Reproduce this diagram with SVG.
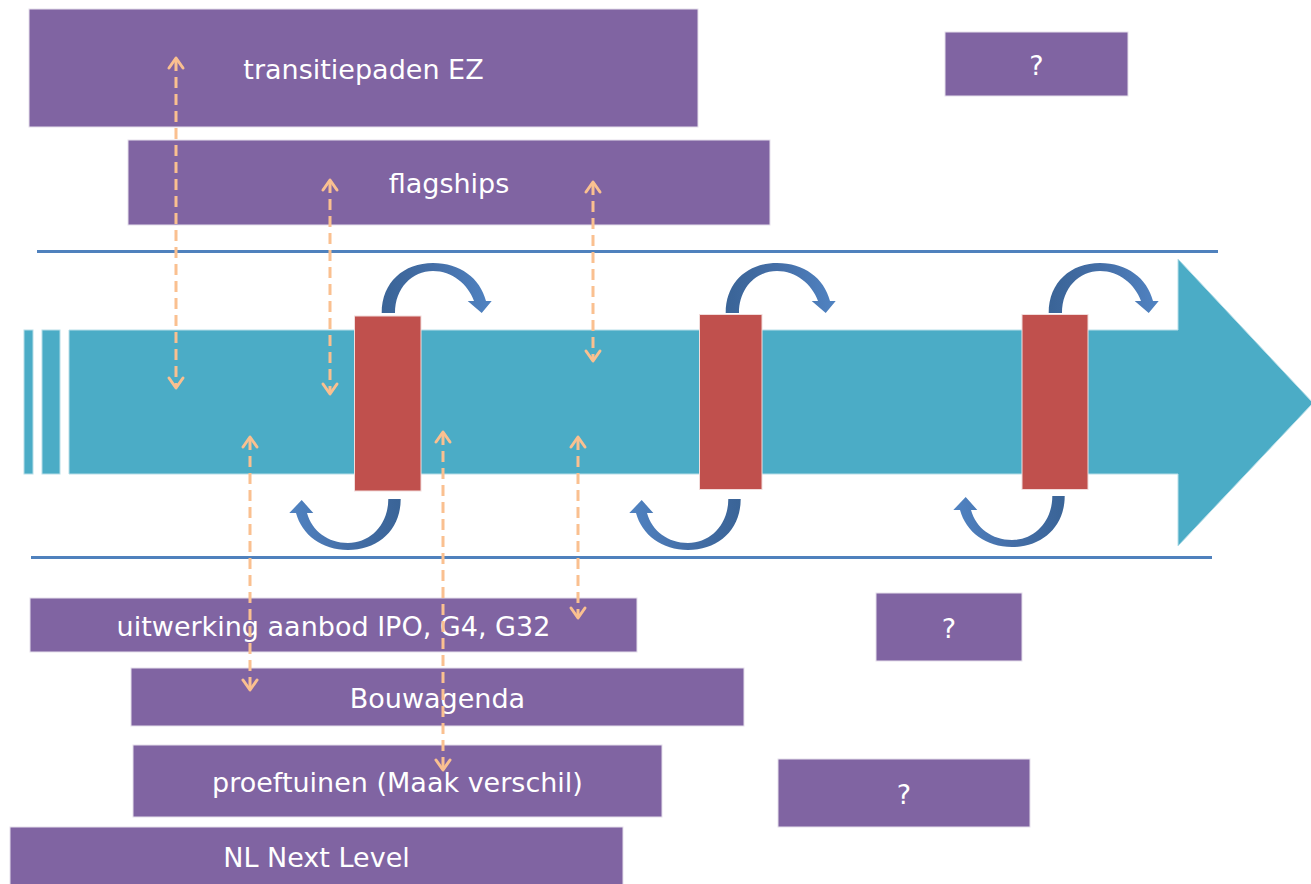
<svg xmlns="http://www.w3.org/2000/svg" width="1311" height="884" viewBox="0 0 1311 884">
<defs>
<style>
.box{fill:#8064A2;stroke:#E6E0EC;stroke-width:1}
.lbl{font-family:"DejaVu Sans","Verdana",sans-serif;font-size:27px;fill:#FFFFFF;text-anchor:middle}
.gate{fill:#C0504D;stroke:#F2DCDB;stroke-width:1}
.band{fill:#4BACC6;stroke:#B7DEE8;stroke-width:1}
.rule{stroke:#4F81BD;stroke-width:3;fill:none}
.dash{stroke:#FAC090;stroke-width:3;stroke-dasharray:11 6;fill:none}
.head{stroke:#FAC090;stroke-width:3;fill:none;stroke-linecap:round;stroke-linejoin:round}
.cu{fill:url(#gTop)}
.cd{fill:url(#gBot)}
</style>
<linearGradient id="gTop" x1="0" y1="0" x2="1" y2="0">
<stop offset="0" stop-color="#3A6497"/>
<stop offset="0.5" stop-color="#456FA8"/>
<stop offset="1" stop-color="#5083C2"/>
</linearGradient>
<linearGradient id="gBot" x1="1" y1="0" x2="0" y2="0">
<stop offset="0" stop-color="#3A6497"/>
<stop offset="0.5" stop-color="#456FA8"/>
<stop offset="1" stop-color="#5083C2"/>
</linearGradient>
<path id="curveTop" d="M381.7,313 C381.7,282 404,263 433,263 C460,263 480,278 486,301 L491.7,301 L481.7,313 L467.7,301 L474,301 C468,284 452,271 433,271 C412,271 395,288 395,313 Z"/>
<path id="curveBot" d="M400.7,499 C400.7,530 378,550 348,550 C322,550 302,535 296,513 L289.3,513 L301.7,500 L313.3,513 L307,513 C312,531 328,543 348,543 C370,543 388.3,525 388.3,499 Z"/>
</defs>

<g id="background">
<line class="rule" x1="37" y1="251.5" x2="1218" y2="251.5"/>
<line class="rule" x1="31" y1="557.5" x2="1212" y2="557.5"/>
</g>

<g id="timeline-arrow">
<rect class="band" x="24" y="330" width="9" height="144"/>
<rect class="band" x="42" y="330" width="18" height="144"/>
<path class="band" d="M69,330 L1178,330 L1178,259 L1313,403 L1178,546 L1178,474 L69,474 Z"/>
</g>

<g id="gate-1">
<rect class="gate" x="354.5" y="316" width="66.5" height="175"/>
<use href="#curveTop" class="cu"/>
<use href="#curveBot" class="cd"/>
</g>
<g id="gate-2">
<rect class="gate" x="699.5" y="314.5" width="62.5" height="175"/>
<use href="#curveTop" class="cu" transform="translate(344,0)"/>
<use href="#curveBot" class="cd" transform="translate(340,0)"/>
</g>
<g id="gate-3">
<rect class="gate" x="1022" y="314.5" width="66" height="175"/>
<use href="#curveTop" class="cu" transform="translate(667,0)"/>
<use href="#curveBot" class="cd" transform="translate(664,-3)"/>
</g>

<g id="node-transitiepaden">
<rect class="box" x="29" y="9" width="669" height="118"/>
<text class="lbl" x="363.5" y="79">transitiepaden EZ</text>
</g>
<g id="node-flagships">
<rect class="box" x="128" y="140" width="642" height="85"/>
<text class="lbl" x="449" y="193">flagships</text>
</g>
<g id="node-q1">
<rect class="box" x="945" y="32" width="183" height="64"/>
<text class="lbl" x="1036.5" y="75">?</text>
</g>
<g id="node-uitwerking">
<rect class="box" x="30" y="598" width="607" height="54"/>
<text class="lbl" x="333.5" y="636">uitwerking aanbod IPO, G4, G32</text>
</g>
<g id="node-bouwagenda">
<rect class="box" x="131" y="668" width="613" height="58"/>
<text class="lbl" x="437.5" y="708">Bouwagenda</text>
</g>
<g id="node-proeftuinen">
<rect class="box" x="133" y="745" width="529" height="72"/>
<text class="lbl" x="397.5" y="792">proeftuinen (Maak verschil)</text>
</g>
<g id="node-nlnextlevel">
<rect class="box" x="10" y="827" width="613" height="60"/>
<text class="lbl" x="316.5" y="867">NL Next Level</text>
</g>
<g id="node-q2">
<rect class="box" x="876" y="593" width="146" height="68"/>
<text class="lbl" x="949" y="638">?</text>
</g>
<g id="node-q3">
<rect class="box" x="778" y="759" width="252" height="68"/>
<text class="lbl" x="904" y="804">?</text>
</g>

<g id="connectors">
<line class="dash" x1="176" y1="60" x2="176" y2="386"/>
<polyline class="head" points="169,68 176,58 183,68"/>
<polyline class="head" points="169,378 176,388 183,378"/>

<line class="dash" x1="330" y1="182" x2="330" y2="392"/>
<polyline class="head" points="323,190 330,180 337,190"/>
<polyline class="head" points="323,384 330,394 337,384"/>

<line class="dash" x1="593" y1="184" x2="593" y2="359"/>
<polyline class="head" points="586,192 593,182 600,192"/>
<polyline class="head" points="586,351 593,361 600,351"/>

<line class="dash" x1="250" y1="439" x2="250" y2="688"/>
<polyline class="head" points="243,447 250,437 257,447"/>
<polyline class="head" points="243,680 250,690 257,680"/>

<line class="dash" x1="443" y1="434" x2="443" y2="768"/>
<polyline class="head" points="436,442 443,432 450,442"/>
<polyline class="head" points="436,760 443,770 450,760"/>

<line class="dash" x1="578" y1="439" x2="578" y2="616"/>
<polyline class="head" points="571,447 578,437 585,447"/>
<polyline class="head" points="571,608 578,618 585,608"/>
</g>
</svg>
